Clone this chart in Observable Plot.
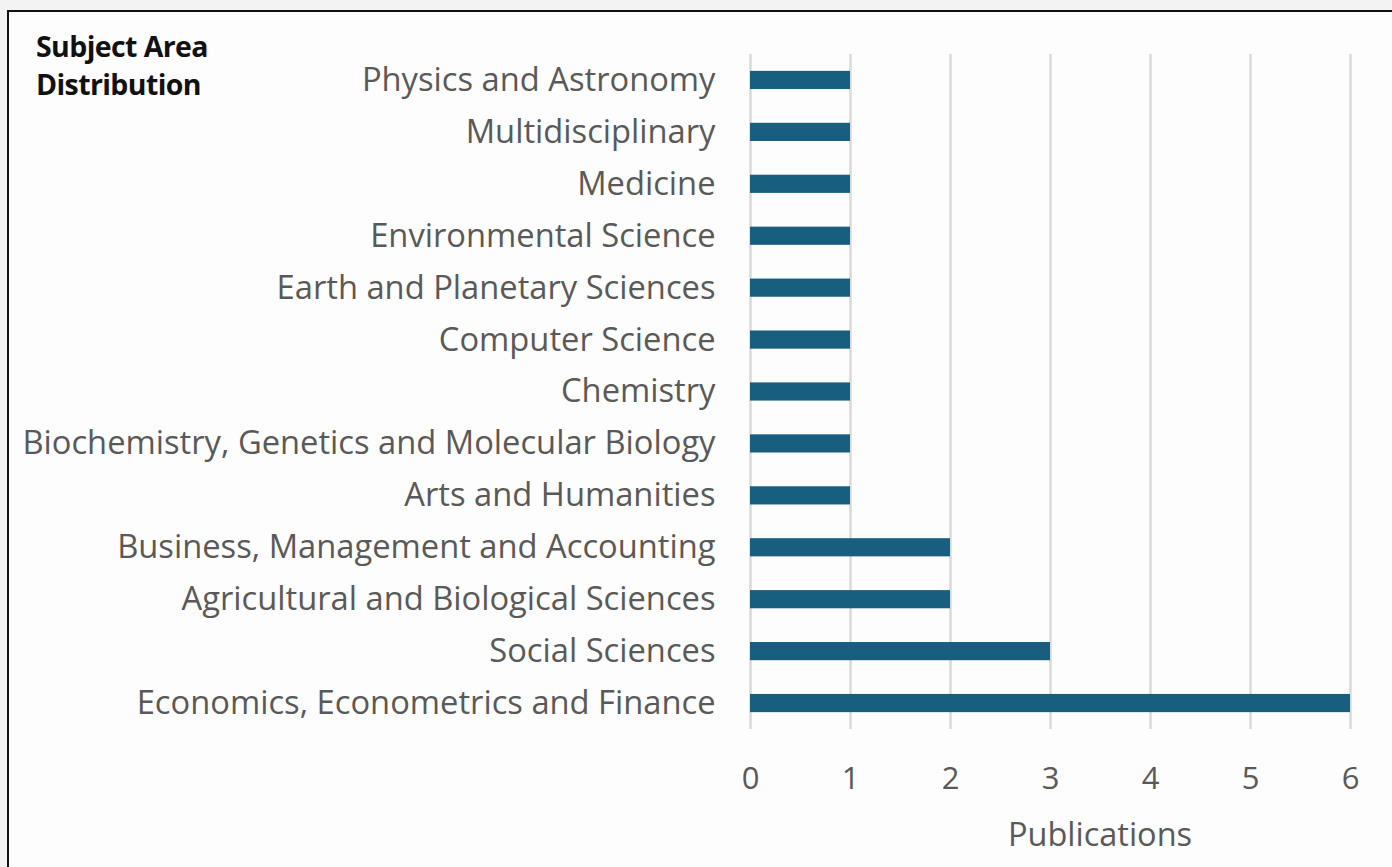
<!DOCTYPE html>
<html>
<head>
<meta charset="utf-8">
<script src="https://cdn.jsdelivr.net/npm/d3@7"></script>
<script src="https://cdn.jsdelivr.net/npm/@observablehq/plot@0.6"></script>
<style>
  html, body { margin: 0; padding: 0; background: #f3f3f3; }
  #wrap { position: relative; width: 1392px; height: 867px; overflow: hidden; }
  #frame { position: absolute; left: 7px; top: 10px; width: 1400px; height: 870px; border: 2px solid #111; background: #fdfdfd; }
  #chart { position: absolute; left: 0; top: 0; }
  #title { position: absolute; left: 36px; top: 27px; font-family: "Open Sans", sans-serif; font-weight: 700; font-size: 28.5px; line-height: 38px; color: #111; letter-spacing: -0.6px; }
  #xlabel { position: absolute; left: 960px; width: 280px; top: 811px; text-align: center; font-family: "Open Sans", sans-serif; font-size: 32.5px; color: #595959; }
</style>
</head>
<body>
<div id="wrap">
  <div id="frame"></div>
  <div id="chart"></div>
  <div id="title">Subject Area<br>Distribution</div>
  <div id="xlabel">Publications</div>
</div>
<script>
const categories = [
  "Physics and Astronomy",
  "Multidisciplinary",
  "Medicine",
  "Environmental Science",
  "Earth and Planetary Sciences",
  "Computer Science",
  "Chemistry",
  "Biochemistry, Genetics and Molecular Biology",
  "Arts and Humanities",
  "Business, Management and Accounting",
  "Agricultural and Biological Sciences",
  "Social Sciences",
  "Economics, Econometrics and Finance"
];
const publications = [1, 1, 1, 1, 1, 1, 1, 1, 1, 2, 2, 3, 6];
const xTicks = [0, 1, 2, 3, 4, 5, 6];

const data = categories.map((c, i) => ({subject: c, count: publications[i]}));

const plot = Plot.plot({
  width: 1392,
  height: 867,
  marginLeft: 750,
  marginRight: 42,
  marginTop: 54,
  marginBottom: 138,
  style: {background: "transparent", fontFamily: "'Open Sans', sans-serif", color: "#595959"},
  x: {domain: [0, 6], ticks: xTicks, label: null},
  y: {domain: categories, label: null, paddingInner: 0.65, paddingOuter: 0.325, round: false},
  marks: [
    Plot.gridX(xTicks, {stroke: "#d9d9d9", strokeOpacity: 1, strokeWidth: 2.5}),
    Plot.barX(data, {x: "count", y: "subject", fill: "#175e7f", inset: 0}),
    Plot.axisX(xTicks, {tickSize: 0, tickPadding: 37, fontSize: 31, fill: "#595959", label: null}),
    Plot.axisY({tickSize: 0, tickPadding: 35, fontSize: 32.7, fill: "#595959", label: null})
  ]
});
document.getElementById("chart").appendChild(plot);
</script>
</body>
</html>
